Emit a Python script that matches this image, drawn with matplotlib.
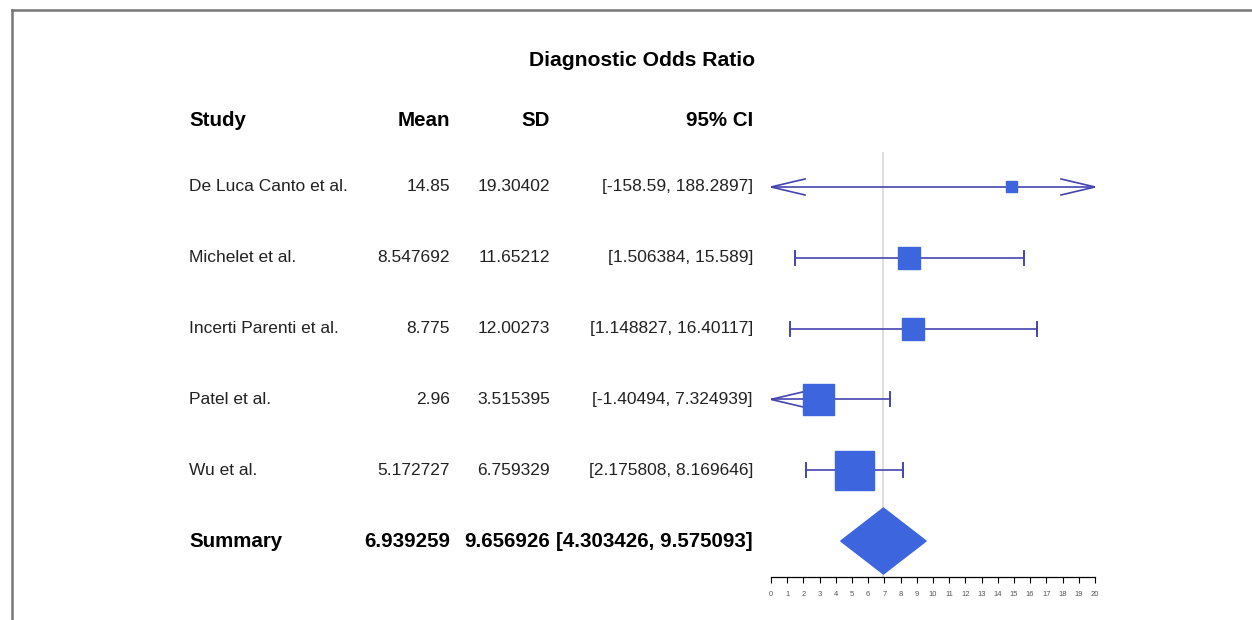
import matplotlib.pyplot as plt
from matplotlib.transforms import blended_transform_factory
from matplotlib.patches import Rectangle, Polygon

plt.rcParams['font.family'] = ['Liberation Sans', 'DejaVu Sans']

# study data
studies = ['De Luca Canto et al.', 'Michelet et al.', 'Incerti Parenti et al.',
           'Patel et al.', 'Wu et al.']
means = [14.85, 8.547692, 8.775, 2.96, 5.172727]
mean_text = ['14.85', '8.547692', '8.775', '2.96', '5.172727']
sds = ['19.30402', '11.65212', '12.00273', '3.515395', '6.759329']
lower = [-158.59, 1.506384, 1.148827, -1.40494, 2.175808]
upper = [188.2897, 15.589, 16.40117, 7.324939, 8.169646]
ci_text = ['[-158.59, 188.2897]', '[1.506384, 15.589]', '[1.148827, 16.40117]',
           '[-1.40494, 7.324939]', '[2.175808, 8.169646]']
weights = [11, 22, 22, 31, 39]  # relative box size

summary_mean = 6.939259
summary_text = ['6.939259', '9.656926', '[4.303426, 9.575093]']
summary_lo, summary_hi = 4.303426, 9.575093

W, H = 1252, 620
fig = plt.figure(figsize=(W / 100, H / 100), dpi=100)

# outer frame (cut at the right and bottom)
fig.add_artist(plt.Line2D([12 / W, 12 / W], [0, 1 - 10 / H], color='#777777', lw=1.8,
                          transform=fig.transFigure))
fig.add_artist(plt.Line2D([12 / W, 1], [1 - 10 / H, 1 - 10 / H], color='#777777', lw=1.8,
                          transform=fig.transFigure))

ax = fig.add_axes([771 / W, 1 - 577 / H, 324 / W, 425 / H])
ax.set_xlim(0, 20)
ax.set_ylim(-5.508, 0.494)
for s in ['top', 'right', 'left']:
    ax.spines[s].set_visible(False)
ax.spines['bottom'].set_linewidth(0.9)
ax.set_yticks([])
ax.set_xticks(range(0, 21))
ax.tick_params(axis='x', direction='out', length=4, width=0.8, labelsize=5.5, pad=6,
               labelcolor='#555555')

line_col = '#4444b0'
box_col = '#3d65dd'
px_x = 20 / 324          # data units per pixel in x
px_y = 6.002 / 425       # data units per pixel in y

# reference line at summary estimate
ax.axvline(summary_mean, color='#d8d8d8', lw=1.2, zorder=0)

ys = [-i for i in range(len(studies))]
for y, m, lo, hi, w in zip(ys, means, lower, upper, weights):
    lo_c = max(lo, 0)
    hi_c = min(hi, 20)
    ax.plot([lo_c, hi_c], [y, y], color=line_col, lw=1.2, zorder=2)
    # left end
    if lo < 0:
        ax.plot([lo_c + 34 * px_x, lo_c, lo_c + 34 * px_x],
                [y + 8 * px_y, y, y - 8 * px_y], color=line_col, lw=1.2, zorder=2)
    else:
        ax.plot([lo_c, lo_c], [y - 7 * px_y, y + 7 * px_y], color=line_col, lw=1.4, zorder=2)
    # right end
    if hi > 20:
        ax.plot([hi_c - 34 * px_x, hi_c, hi_c - 34 * px_x],
                [y + 8 * px_y, y, y - 8 * px_y], color=line_col, lw=1.2, zorder=2)
    else:
        ax.plot([hi_c, hi_c], [y - 7 * px_y, y + 7 * px_y], color=line_col, lw=1.4, zorder=2)
    bw = w * px_x
    bh = w * px_y
    ax.add_patch(Rectangle((m - bw / 2, y - bh / 2), bw, bh, color=box_col, zorder=3))

# summary diamond
ys_sum = -len(studies)
dh = 33 * px_y
ax.add_patch(Polygon([[summary_lo, ys_sum], [summary_mean, ys_sum + dh],
                      [summary_hi, ys_sum], [summary_mean, ys_sum - dh]],
                     closed=True, color=box_col, zorder=3))

# text columns
tr = blended_transform_factory(fig.transFigure, ax.transData)
cols = [189 / W, 450 / W, 550 / W, 753 / W]
aligns = ['left', 'right', 'right', 'right']
fs = 12.5
fsb = 14.8
head_y = 0.94

for x, ha, lab in zip(cols, aligns, ['Study', 'Mean', 'SD', '95% CI']):
    ax.text(x, head_y, lab, transform=tr, fontsize=fsb, fontweight='bold',
            ha=ha, va='center')

for y, row in zip(ys, zip(studies, mean_text, sds, ci_text)):
    for x, ha, lab in zip(cols, aligns, row):
        ax.text(x, y, lab, transform=tr, fontsize=fs, ha=ha, va='center',
                color='#222222')

for x, ha, lab in zip(cols, aligns, ['Summary'] + summary_text):
    ax.text(x, ys_sum, lab, transform=tr, fontsize=fsb, fontweight='bold',
            ha=ha, va='center')

fig.text(642 / W, 1 - 60 / H, 'Diagnostic Odds Ratio', fontsize=15.2, fontweight='bold',
         ha='center', va='center')

fig.savefig('out.png', dpi=100)
